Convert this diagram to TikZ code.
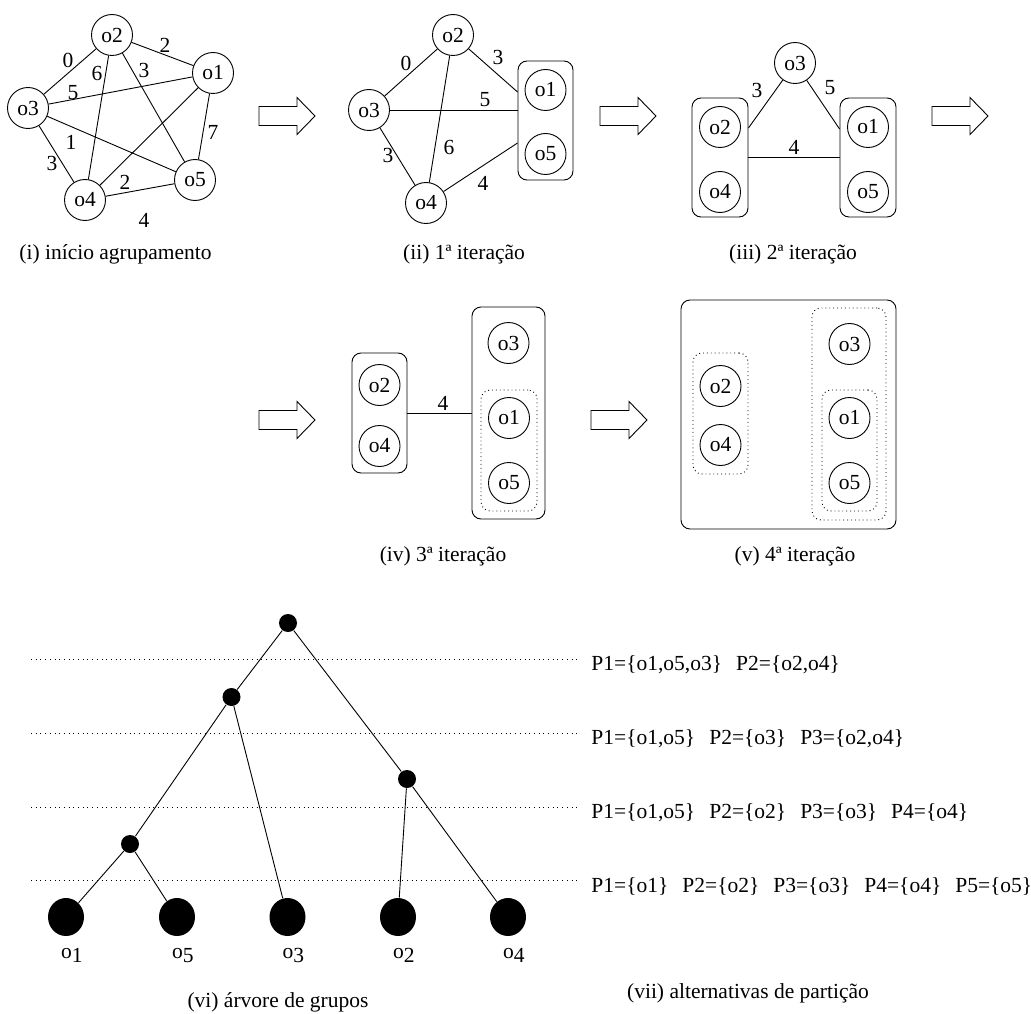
\documentclass[tikz,border=0pt]{standalone}
\usepackage{fontspec}
\setmainfont{Liberation Serif}
\usetikzlibrary{shapes.geometric}
\newcommand{\gap}{\hspace{14pt}}
\begin{document}
\begin{tikzpicture}[x=1pt,y=-1pt,
  every node/.style={font=\fontsize{21.5}{25}\selectfont},
  line width=0.9pt,
  obj/.style={circle,draw,minimum size=41pt,inner sep=0pt},
  grp/.style={draw,rounded corners=9pt,inner sep=0pt},
  dgrp/.style={grp,dash pattern=on 0.9pt off 3pt},
  lbl/.style={inner sep=0pt},
  caption/.style={inner sep=0pt,anchor=base},
  knot/.style={circle,fill,inner sep=0pt,minimum size=18pt},
  leaf/.style={ellipse,fill,inner sep=0pt,minimum width=36pt,minimum height=38pt},
  level/.style={dash pattern=on 0.9pt off 3.8pt},
  part/.style={inner sep=0pt,anchor=base west},
  fatarrow/.pic={\draw[line join=miter] (0,-9.5) -- (38,-9.5) -- (38,-18.5) -- (56,0)
     -- (38,18.5) -- (38,9.5) -- (0,9.5) -- cycle;}]
\path[use as bounding box] (0,0) rectangle (1031,1014);

% ---- (i) initial graph
\node[obj] (a2) at (112,35) {o2};
\node[obj] (a1) at (213,73) {o1};
\node[obj] (a3) at (28,108) {o3};
\node[obj] (a4) at (85,200) {o4};
\node[obj] (a5) at (195,180) {o5};
\draw (a2) -- (a1); \draw (a3) -- (a2); \draw (a2) -- (a4); \draw (a2) -- (a5);
\draw (a3) -- (a1); \draw (a3) -- (a5); \draw (a3) -- (a4); \draw (a4) -- (a1);
\draw (a1) -- (a5); \draw (a4) -- (a5);
\node[lbl] (la21) at (165,45) {2};
\node[lbl] (la32) at (68,60) {0};
\node[lbl] (la24) at (97,73) {6};
\node[lbl] (la25) at (144,70) {3};
\node[lbl] (la31) at (73,93) {5};
\node[lbl] (la15) at (213,132) {7};
\node[lbl] (la35) at (71,142) {1};
\node[lbl] (la34) at (52,163) {3};
\node[lbl] (la41) at (125,182) {2};
\node[lbl] (la45) at (144,220) {4};
\node[caption] (capi) at (115.5,259) {(i) início agrupamento};

\pic (ar1) at (259,116) {fatarrow};

% ---- (ii) first iteration
\node[grp,minimum width=55pt,minimum height=119pt] (b15) at (545.5,120.5) {};
\node[obj] (b2) at (453,35) {o2};
\node[obj] (b3) at (369,110) {o3};
\node[obj] (b4) at (426,203) {o4};
\node[obj] (b1) at (545.5,90) {o1};
\node[obj] (b5) at (545.5,154) {o5};
\draw (b3) -- (b2); \draw (b3) -- (b4); \draw (b2) -- (b4);
\draw (b2) -- (b15.west |- 0,92);
\draw (b3) -- (b15.west |- b3);
\draw (b4) -- (b15.west |- 0,143);
\node[lbl] (lb2) at (498,57) {3};
\node[lbl] (lb32) at (406,63) {0};
\node[lbl] (lb3) at (485,100) {5};
\node[lbl] (lb24) at (449,147) {6};
\node[lbl] (lb34) at (388,155) {3};
\node[lbl] (lb4) at (483,183) {4};
\node[caption] (capii) at (464,259) {(ii) 1ª iteração};

\pic (ar2) at (600,116) {fatarrow};

% ---- (iii) second iteration
\node[grp,minimum width=56pt,minimum height=119pt] (c24) at (720,157.5) {};
\node[grp,minimum width=56pt,minimum height=119pt] (c15) at (868,157.5) {};
\node[obj] (c3) at (795,63) {o3};
\node[obj] (c2) at (720,127) {o2};
\node[obj] (c4) at (720,192) {o4};
\node[obj] (c1) at (868,127) {o1};
\node[obj] (c5) at (868,192) {o5};
\draw (c3) -- (c24.east |- 0,128);
\draw (c3) -- (c15.west |- 0,129);
\draw (c24) -- (c15);
\node[lbl] (lc2) at (757,90) {3};
\node[lbl] (lc1) at (830,88) {5};
\node[lbl] (lc0) at (794,147) {4};
\node[caption] (capiii) at (793,259) {(iii) 2ª iteração};

\pic (ar3) at (932,116) {fatarrow};

% ---- (iv) third iteration
\pic (ar4) at (259,420) {fatarrow};
\node[grp,minimum width=55pt,minimum height=120pt] (d24) at (379.5,413) {};
\node[grp,minimum width=73pt,minimum height=212pt] (d153) at (508.5,413) {};
\node[dgrp,minimum width=56pt,minimum height=121pt] (d15) at (509,450.5) {};
\node[obj] (d2) at (379.5,385) {o2};
\node[obj] (d4) at (379.5,446) {o4};
\node[obj] (d3) at (508.5,343) {o3};
\node[obj] (d1) at (509,418) {o1};
\node[obj] (d5) at (509,483) {o5};
\draw (d24) -- (d153);
\node[lbl] (ld) at (443,403) {4};
\node[caption] (capiv) at (443,561) {(iv) 3ª iteração};

\pic (ar5) at (591,420) {fatarrow};

% ---- (v) fourth iteration
\node[grp,minimum width=215pt,minimum height=229pt] (eall) at (788.5,414.5) {};
\node[dgrp,minimum width=55pt,minimum height=121pt] (e24) at (720.5,413.5) {};
\node[dgrp,minimum width=74pt,minimum height=212pt] (e153) at (849,414) {};
\node[dgrp,minimum width=55pt,minimum height=121pt] (e15) at (849.5,450.5) {};
\node[obj] (e2) at (720.5,386) {o2};
\node[obj] (e4) at (720.5,445) {o4};
\node[obj] (e3) at (849.5,344) {o3};
\node[obj] (e1) at (849.5,418) {o1};
\node[obj] (e5) at (849.5,483) {o5};
\node[caption] (capv) at (795,561) {(v) 4ª iteração};

% ---- (vi) cluster tree
\foreach \y [count=\k] in {659,733,807,880}
  \draw[level] (31,\y) coordinate (lv\k) -- (578,\y);
\node[knot] (t0) at (288,623) {};
\node[knot] (t1) at (231.5,697) {};
\node[knot] (t2) at (407,779) {};
\node[knot] (t3) at (130,844) {};
\node[leaf] (l1) at (66,917) {};
\node[leaf] (l5) at (177,917) {};
\node[leaf] (l3) at (287.5,917) {};
\node[leaf] (l2) at (398,917) {};
\node[leaf] (l4) at (508,917) {};
\draw (t0) -- (t1); \draw (t0) -- (t2);
\draw (t1) -- (t3); \draw (t1) -- (l3);
\draw (t3) -- (l1); \draw (t3) -- (l5);
\draw (t2) -- (l2); \draw (t2) -- (l4);
\node[part] (n1) at (60.75,958) {o\raisebox{-0.2em}{1}};
\node[part] (n5) at (171.75,958) {o\raisebox{-0.2em}{5}};
\node[part] (n3) at (282.25,958) {o\raisebox{-0.2em}{3}};
\node[part] (n2) at (392.75,958) {o\raisebox{-0.2em}{2}};
\node[part] (n4) at (502.75,958) {o\raisebox{-0.2em}{4}};
\node[caption] (capvi) at (278,1007) {(vi) árvore de grupos};

% ---- (vii) partition alternatives
\node[part] (p1) at (591,670) {P1=\{o1,o5,o3\}\gap P2=\{o2,o4\}};
\node[part] (p2) at (591,744) {P1=\{o1,o5\}\gap P2=\{o3\}\gap P3=\{o2,o4\}};
\node[part] (p3) at (591,818) {P1=\{o1,o5\}\gap P2=\{o2\}\gap P3=\{o3\}\gap P4=\{o4\}};
\node[part] (p4) at (591,892) {P1=\{o1\}\gap P2=\{o2\}\gap P3=\{o3\}\gap P4=\{o4\}\gap P5=\{o5\}};
\node[caption] (capvii) at (748,998) {(vii) alternativas de partição};
\end{tikzpicture}
\end{document}
